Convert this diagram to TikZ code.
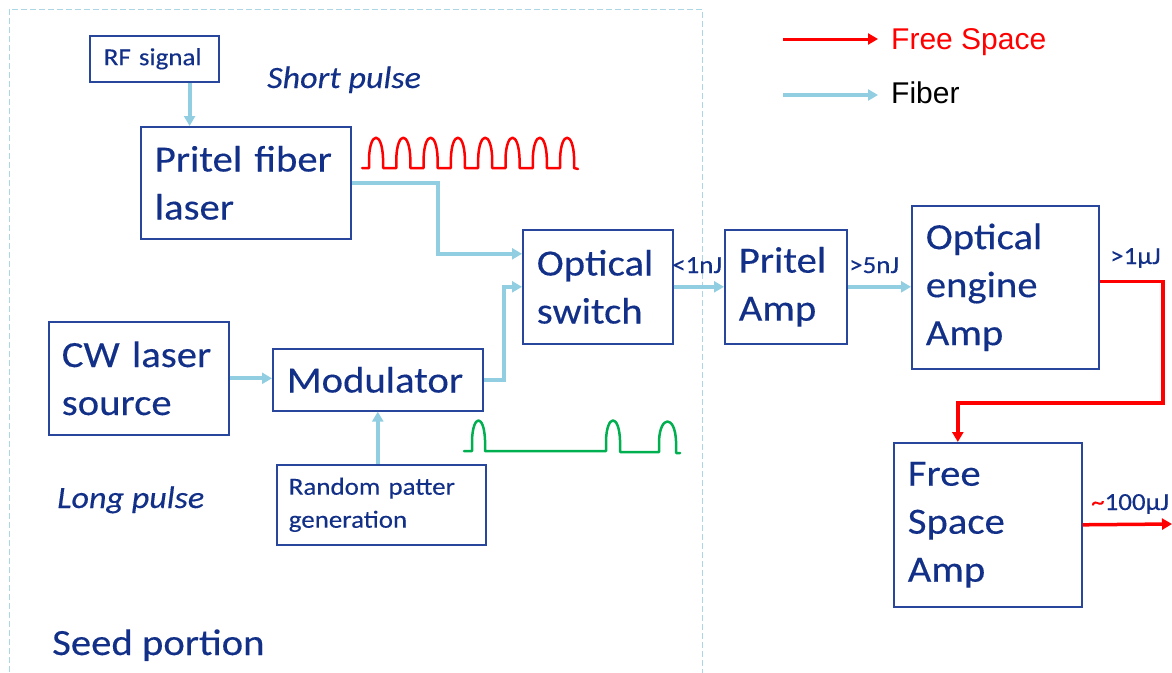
\documentclass[tikz,border=0pt]{standalone}
\usepackage{fontspec}
\setmainfont[FakeStretch=1.1, FakeBold=0.3]{Carlito}
\newfontfamily\legendfont{Liberation Sans}
\usetikzlibrary{arrows.meta}
\definecolor{txtblue}{RGB}{18,48,135}
\definecolor{boxblue}{RGB}{40,70,155}
\definecolor{fiberblue}{RGB}{146,206,226}
\definecolor{framecol}{RGB}{170,214,230}
\definecolor{pulsegreen}{RGB}{0,176,80}
\begin{document}
\begin{tikzpicture}[x=1pt,y=-1pt,
  bx/.style={draw=boxblue, line width=1.6pt, text=txtblue, anchor=north west,
    inner xsep=14pt, inner ysep=0pt, align=left, font=\fontsize{37}{48}\selectfont},
  sbx/.style={bx, font=\fontsize{24.5}{33}\selectfont},
  fib/.style={draw=fiberblue, line width=4pt, -{Triangle[length=10pt,width=11pt]}},
  fs/.style={draw=red, line width=3.5pt, -{Triangle[length=10pt,width=11pt]}},
  lbl/.style={text=txtblue, anchor=base west, inner sep=0pt, font=\fontsize{24.5}{29}\selectfont},
  note/.style={text=txtblue, anchor=base west, inner sep=0pt, font=\fontsize{31}{37}\selectfont\itshape},
  legtxt/.style={anchor=base west, inner sep=0pt, font=\legendfont\fontsize{30}{36}\selectfont},
  pulsered/.style={draw=red, line width=2.5pt, line join=round, line cap=round},
  pulsegrn/.style={draw=pulsegreen, line width=2.5pt, line join=round, line cap=round},
  seedframe/.style={draw=framecol, line width=1pt, dash pattern=on 6pt off 3pt}
]
\useasboundingbox (0,0) rectangle (1172,672);

% seed frame
\draw[seedframe] (9,690) -- (9,9) -- (702,9) -- (702,690);

% boxes
\node[sbx, text width=101pt, minimum height=46pt] (rf) at (89,35) {RF signal};
\node[bx, text width=182pt, minimum height=112pt] (pfl) at (140,126) {Pritel fiber\\laser};
\node[bx, text width=122pt, minimum height=114pt] (osw) at (522,229) {Optical\\switch};
\node[bx, inner xsep=13pt, text width=154pt, minimum height=113pt] (cw) at (48,321) {CW laser\\source};
\node[bx, text width=182pt, minimum height=62pt] (mod) at (272,348) {Modulator};
\node[sbx, inner xsep=12pt, text width=185pt, minimum height=80pt] (rnd) at (276,464) {Random patter\\generation};
\node[bx, text width=94pt, minimum height=114pt] (pamp) at (724,229) {Pritel\\Amp};
\node[bx, text width=159pt, minimum height=163pt] (oea) at (911,205) {Optical\\engine\\Amp};
\node[bx, text width=160pt, minimum height=164pt] (fsa) at (893,442) {Free\\Space\\Amp};

% notes
\node[note] (shortp) at (267,88) {Short pulse};
\node[note] (longp) at (57,508) {Long pulse};
\node[text=txtblue, anchor=base west, inner sep=0pt, font=\fontsize{37}{44}\selectfont] (seed) at (52,655) {Seed portion};

% energy labels
\node[lbl] (l1) at (672,273) {<1nJ};
\node[lbl] (l2) at (849,273) {>5nJ};
\node[lbl] (l3) at (1110,264) {>1µJ};
\node[lbl] (l4) at (1091,510) {{\color{red}\textasciitilde}100µJ};

% fiber connectors
\draw[fib] ([xshift=-30pt]rf.south east) -- ([xshift=-30pt]rf.south east |- pfl.north);
\draw[fib] (pfl.east) -- ++(86,0) |- ([yshift=33pt]osw.west);
\draw[fib] (mod.east) -- ++(20,0) |- (osw.west);
\draw[fib] (cw.east) -- (cw.east -| mod.west);
\draw[fib] (rnd.north -| mod.south) -- (mod.south);
\draw[fib] (osw.east) -- (pamp.west);
\draw[fib] (pamp.east) -- (pamp.east -| oea.west);

% free space connectors
\coordinate (bend) at (1163,403);
\coordinate (outc) at (1172,524);
\draw[fs] ([yshift=6pt]oea.east) -| (bend) -| ([xshift=-30pt]fsa.north);
\draw[fs] (fsa.east) -- (outc);

% legend
\node[legtxt, text=red] (lfs) at (891,49) {Free Space};
\node[legtxt, text=black] (lfb) at (891,103) {Fiber};
\coordinate (la) at (783,39);
\coordinate (lb) at (783,95);
\draw[fs, line width=3pt, shorten >=13pt] (la) -- (la -| lfs.west);
\draw[fib, shorten >=13pt] (lb) -- (lb -| lfb.west);

% red short pulse train
\draw[pulsered] (362,168)
  \foreach \i in {0,...,7} {
    -- ({369+27.3*\i},168) -- ({369+27.3*\i},158)
    .. controls ({370+27.3*\i},131) and ({382+27.3*\i},131) .. ({383+27.3*\i},158)
    -- ({383+27.3*\i},168)
  } -- (578,169);

% green long pulse pattern
\draw[pulsegrn] (464,451) -- (472,451) -- (472,440)
  .. controls (473,414) and (484,414) .. (485,440) -- (485,451) -- (606,451) -- (606,440)
  .. controls (607,414) and (619,414) .. (620,440) -- (620,452) -- (659,452) -- (659,441)
  .. controls (660,415) and (675,415) .. (676,441) -- (676,453) -- (680,453);
\end{tikzpicture}
\end{document}
